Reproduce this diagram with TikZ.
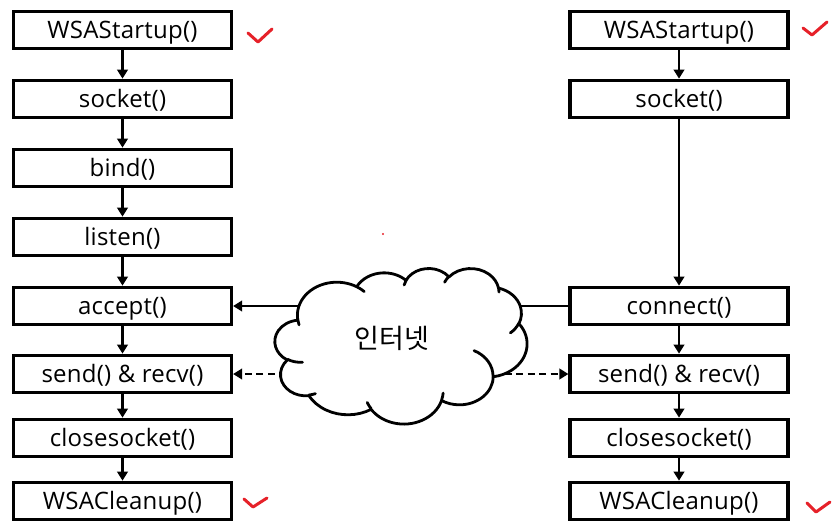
\documentclass[tikz,border=0pt]{standalone}
\usepackage{fontspec}
\setmainfont{Open Sans}[LetterSpace=1]
\newfontfamily\krfont{Noto Sans CJK KR}
\usetikzlibrary{arrows.meta}
\definecolor{chkred}{HTML}{E62129}
\begin{document}
\begin{tikzpicture}[x=1pt,y=-1pt,
  fbox/.style={draw, line width=3.2pt, minimum width=218pt, minimum height=37.5pt, inner sep=0pt, text height=18pt, text depth=2pt, font=\fontsize{24}{28}\selectfont},
  arr/.style={line width=2.2pt, -{Triangle[length=9pt,width=10.5pt]}},
  dsh/.style={dash pattern=on 7pt off 4.5pt},
  chk/.style={draw=chkred, line width=3pt, line cap=round, line join=round},
  cloudline/.style={line width=2.8pt, line join=round, line cap=round},
  declare function={pang(\pw,\ph,\pa)=atan2(\pw*sin(\pa),\ph*cos(\pa));},
  oo/.style n args={4}{x radius=#1, y radius=#2, start angle={pang(#1,#2,#3)}, delta angle={mod(pang(#1,#2,#3+#4)-pang(#1,#2,#3)+720,360)}}
]
\useasboundingbox (0,0) rectangle (838,531);
% left column
\node[fbox] (l1) at (122.5,30) {WSAStartup()};
\node[fbox] (l2) at (122.5,99) {socket()};
\node[fbox] (l3) at (122.5,168) {bind()};
\node[fbox] (l4) at (122.5,237) {listen()};
\node[fbox] (l5) at (122.5,306) {accept()};
\node[fbox] (l6) at (122.5,374) {send() \& recv()};
\node[fbox] (l7) at (122.5,438) {closesocket()};
\node[fbox] (l8) at (122.5,501) {WSACleanup()};
% right column
\node[fbox] (r1) at (679,30) {WSAStartup()};
\node[fbox] (r2) at (679,99) {socket()};
\node[fbox] (r5) at (679,306) {connect()};
\node[fbox] (r6) at (679,374) {send() \& recv()};
\node[fbox] (r7) at (679,438) {closesocket()};
\node[fbox] (r8) at (679,501) {WSACleanup()};
% vertical arrows
\draw[arr] (l1) -- (l2);
\draw[arr] (l2) -- (l3);
\draw[arr] (l3) -- (l4);
\draw[arr] (l4) -- (l5);
\draw[arr] (l5) -- (l6);
\draw[arr] (l6) -- (l7);
\draw[arr] (l7) -- (l8);
\draw[arr] (r1) -- (r2);
\draw[arr] (r2) -- (r5);
\draw[arr] (r5) -- (r6);
\draw[arr] (r6) -- (r7);
\draw[arr] (r7) -- (r8);
% network links
\coordinate (netc) at (401,343);
\draw[arr] (r5) -- (l5);
\draw[arr,dsh] (netc |- l6.east) -- (l6);
\draw[arr,dsh] (netc |- r6.west) -- (r6);
% cloud
\begin{scope}[shift={(275,268)}, x=5.8333pt, y=-3.6pt]
\draw[cloudline, fill=white] (3.900,14.370)
  arc[oo={6.753}{9.190}{-190.4875}{123.7805}]
  arc[oo={5.333}{7.267}{-144.1024}{89.9452}]
  arc[oo={4.365}{5.945}{-145.8079}{99.7230}]
  arc[oo={4.857}{6.595}{-130.9861}{117.2417}]
  arc[oo={5.333}{7.273}{-78.7089}{109.0269}]
  arc[oo={6.775}{9.220}{-46.2673}{130.2690}]
  arc[oo={5.785}{7.867}{0.6250}{114.0333}]
  arc[oo={6.752}{9.215}{22.4516}{115.1726}]
  arc[oo={7.720}{10.543}{66.2426}{75.7110}]
  arc[oo={4.360}{5.918}{-274.9421}{146.7356}]
  arc[oo={4.345}{5.945}{-246.8285}{152.5189}]
  -- cycle;
\draw[cloudline]
  (4.693,26.177) arc[oo={4.345}{5.945}{86.742}{26.4295}]
  (6.928,34.899) arc[oo={4.360}{5.918}{73.6105}{11.4475}]
  (16.478,39.090) arc[oo={6.752}{9.215}{137.6242}{14.0811}]
  (28.827,34.751) arc[oo={6.752}{9.215}{6.4533}{15.9984}]
  (34.129,22.954) arc[oo={5.785}{7.867}{-70.2924}{70.9174}]
  (41.798,15.354) arc[oo={5.333}{7.273}{30.3180}{27.7515}]
  (38.324,5.426) arc[oo={4.857}{6.595}{-13.7443}{14.8589}]
  (29.078,3.952) arc[oo={4.857}{6.595}{-149.1815}{18.1954}]
  (22.141,4.720) arc[oo={4.365}{5.945}{-163.4943}{17.6864}]
  (14.000,5.192) arc[oo={6.753}{9.190}{-66.7070}{12.3194}]
  (4.127,15.789) arc[oo={6.753}{9.190}{157.6544}{11.8582}];
\end{scope}
\node[font=\krfont\fontsize{27}{30}\selectfont] (net) at (392,338) {인터넷};
% check marks
\draw[chk] (248,33) -- (258,42) -- (272,29);
\draw[chk] (803,28) -- (812,35) -- (827,22);
\draw[chk] (244,499) -- (253,507) -- (267,498);
\draw[chk] (807,503) -- (816,512) -- (830,502);
\fill[chkred] (383,234) circle (1.2pt);
\end{tikzpicture}
\end{document}
